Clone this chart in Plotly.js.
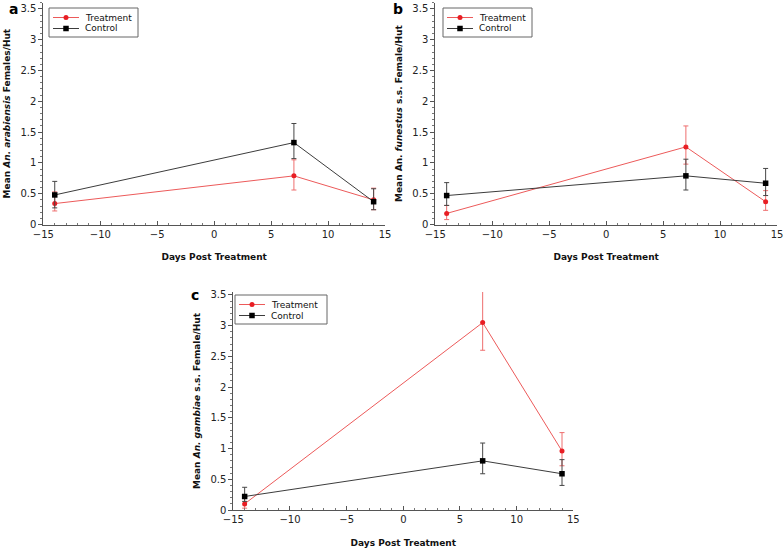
<!DOCTYPE html>
<html>
<head>
<meta charset="utf-8">
<script src="https://cdn.plot.ly/plotly-3.0.1.min.js"></script>
<style>html,body{margin:0;padding:0;background:#fff;}#chart{width:784px;height:550px;}</style>
</head>
<body>
<div id="chart"></div>
<script>
// ---- data ----
const days = [-14, 7, 14];

// Panel a: An. arabiensis
const aTreat   = [0.34, 0.79, 0.40];
const aTreatHi = [0.53, 1.05, 0.59];
const aTreatLo = [0.22, 0.56, 0.24];
const aCtrl    = [0.48, 1.33, 0.37];
const aCtrlHi  = [0.70, 1.64, 0.58];
const aCtrlLo  = [0.27, 1.07, 0.24];

// Panel b: An. funestus s.s.
const bTreat   = [0.18, 1.26, 0.37];
const bTreatHi = [0.31, 1.60, 0.55];
const bTreatLo = [0.08, 0.98, 0.23];
const bCtrl    = [0.47, 0.79, 0.67];
const bCtrlHi  = [0.68, 1.06, 0.91];
const bCtrlLo  = [0.31, 0.56, 0.47];

// Panel c: An. gambiae s.s.
const cTreat   = [0.10, 3.05, 0.96];
const cTreatHi = [0.20, 3.56, 1.26];
const cTreatLo = [0.03, 2.60, 0.72];
const cCtrl    = [0.22, 0.80, 0.59];
const cCtrlHi  = [0.37, 1.09, 0.82];
const cCtrlLo  = [0.14, 0.59, 0.40];

const seriesNames = ['Treatment', 'Control'];
const panelLabels = ['a', 'b', 'c'];
const yTitles = [
  '<b>Mean <i>An. arabiensis</i> Females/Hut</b>',
  '<b>Mean An. <i>funestus</i> s.s. Female/Hut</b>',
  '<b>Mean <i>An. gambiae</i> s.s. Female/Hut</b>'
];
const xTitle = '<b>Days Post Treatment</b>';

// ---- styling ----
const W = 784, H = 550;
const RED = 'rgb(232,30,36)';
const RED_LINE = 'rgb(236,90,90)';
const RED_ERR = 'rgb(238,110,110)';
const BLK = 'rgb(0,0,0)';
const BLK_LINE = 'rgb(60,60,60)';
const BLK_ERR = 'rgb(70,70,70)';
const FONT = 'DejaVu Sans, Verdana, sans-serif';

function diff(a, b) { return a.map((v, i) => +(v - b[i]).toFixed(3)); }

function mk(name, y, hi, lo, xa, ya, isTreat) {
  return {
    type: 'scatter', mode: 'lines+markers', name: name,
    x: days, y: y, xaxis: xa, yaxis: ya, showlegend: false,
    line: {color: isTreat ? RED_LINE : BLK_LINE, width: 1},
    marker: isTreat ? {symbol: 'circle', size: 5, color: RED}
                    : {symbol: 'square', size: 5.5, color: BLK},
    error_y: {type: 'data', symmetric: false, array: diff(hi, y), arrayminus: diff(y, lo),
              color: isTreat ? RED_ERR : BLK_ERR, thickness: 1, width: 2.5},
    cliponaxis: false
  };
}

const traces = [
  mk(seriesNames[0], aTreat, aTreatHi, aTreatLo, 'x', 'y', true),
  mk(seriesNames[1], aCtrl, aCtrlHi, aCtrlLo, 'x', 'y', false),
  mk(seriesNames[0], bTreat, bTreatHi, bTreatLo, 'x2', 'y2', true),
  mk(seriesNames[1], bCtrl, bCtrlHi, bCtrlLo, 'x2', 'y2', false),
  mk(seriesNames[0], cTreat, cTreatHi, cTreatLo, 'x3', 'y3', true),
  mk(seriesNames[1], cCtrl, cCtrlHi, cCtrlLo, 'x3', 'y3', false)
];

function xAxis(domain, anchor) {
  return {
    domain: domain, anchor: anchor, range: [-15, 15], dtick: 5, tick0: 0,
    showline: true, linecolor: '#555', linewidth: 1, mirror: false,
    showgrid: false, zeroline: false,
    ticks: 'inside', ticklen: 4, tickcolor: '#555',
    minor: {ticks: 'inside', ticklen: 2, dtick: 1, tickcolor: '#777'},
    tickfont: {family: FONT, size: 10, color: '#222'},
    title: {text: xTitle, font: {family: FONT, size: 9, color: '#111'}, standoff: 15},
    automargin: false, fixedrange: true
  };
}
function yAxis(domain, anchor, top, title) {
  return {
    domain: domain, anchor: anchor, range: [0, top], dtick: 0.5, tick0: 0,
    showline: true, linecolor: '#555', linewidth: 1, mirror: false,
    showgrid: false, zeroline: false,
    ticks: 'outside', ticklen: 4, tickcolor: '#555',
    minor: {ticks: 'outside', ticklen: 2, dtick: 0.1, tickcolor: '#777'},
    tickfont: {family: FONT, size: 10, color: '#222'},
    title: {text: title, font: {family: FONT, size: 9, color: '#111'}, standoff: 8},
    automargin: false, fixedrange: true
  };
}

// ---- legend boxes drawn in paper pixels (top-left corner of each box) ----
const legendBoxes = [[49, 8, 89], [443, 8, 89], [235, 295, 92]];
const px = v => v / W, py = v => 1 - v / H;
const shapes = [], annotations = [];
legendBoxes.forEach(([x0, y0, w]) => {
  shapes.push({type: 'rect', xref: 'paper', yref: 'paper', x0: px(x0), x1: px(x0 + w),
    y0: py(y0), y1: py(y0 + 29), line: {color: '#666', width: 1}, fillcolor: '#fff', layer: 'above'});
  [0, 1].forEach(k => {
    const yy = y0 + 9.5 + k * 11;
    const treat = k === 0;
    shapes.push({type: 'line', xref: 'paper', yref: 'paper', x0: px(x0 + 4), x1: px(x0 + 30),
      y0: py(yy), y1: py(yy), line: {color: treat ? RED_LINE : BLK_LINE, width: 1}, layer: 'above'});
    const r = treat ? 2.5 : 2.75;
    shapes.push({type: treat ? 'circle' : 'rect', xref: 'paper', yref: 'paper',
      x0: px(x0 + 17 - r), x1: px(x0 + 17 + r), y0: py(yy - r), y1: py(yy + r),
      line: {width: 0}, fillcolor: treat ? RED : BLK, layer: 'above'});
    annotations.push({text: seriesNames[k], xref: 'paper', yref: 'paper', x: px(x0 + 34), y: py(yy),
      xanchor: 'left', yanchor: 'middle', showarrow: false,
      font: {family: FONT, size: 9, color: '#111'}});
  });
});

const labelPos = [[13, 9], [398, 9], [195, 295]];
labelPos.forEach(([x, y], i) => annotations.push({
  text: '<b>' + panelLabels[i] + '</b>', xref: 'paper', yref: 'paper', x: px(x), y: py(y),
  showarrow: false, xanchor: 'center', yanchor: 'middle',
  font: {family: FONT, size: 14, color: '#000'}
}));

const layout = {
  width: W, height: H,
  margin: {l: 0, r: 0, t: 0, b: 0},
  paper_bgcolor: '#fff', plot_bgcolor: '#fff',
  showlegend: false,
  xaxis:  xAxis([0.0553, 0.4911], 'y'),
  yaxis:  yAxis([0.5918, 0.995], 'x', 3.6, yTitles[0]),
  xaxis2: xAxis([0.5552, 0.9911], 'y2'),
  yaxis2: yAxis([0.5918, 0.995], 'x2', 3.6, yTitles[1]),
  xaxis3: xAxis([0.2976, 0.7313], 'y3'),
  yaxis3: yAxis([0.0727, 0.4693], 'x3', 3.55, yTitles[2]),
  shapes: shapes,
  annotations: annotations
};

Plotly.newPlot('chart', traces, layout, {staticPlot: true, displayModeBar: false});
</script>
</body>
</html>
